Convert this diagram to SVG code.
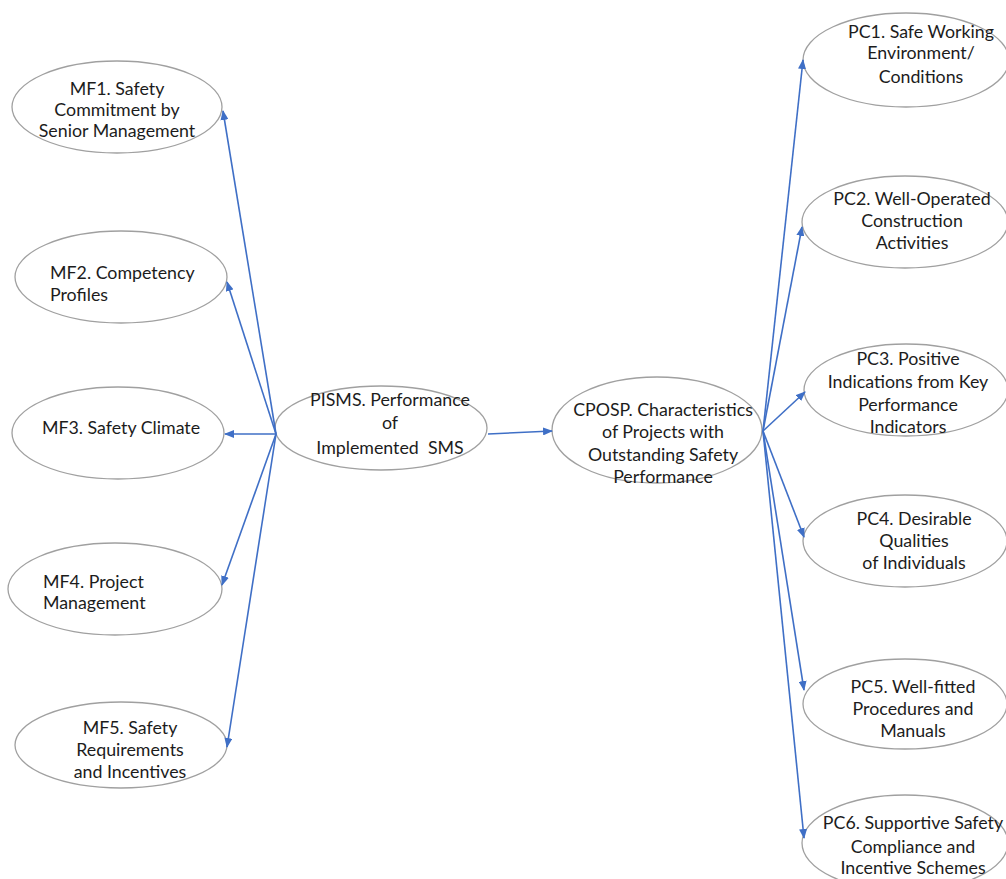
<svg xmlns="http://www.w3.org/2000/svg" width="1006" height="879" viewBox="0 0 1006 879">
<defs>
<style>
.n ellipse{fill:#fff;stroke:#a0a0a0;stroke-width:1.3}
.n text{font-family:"Lato","Open Sans",sans-serif;font-size:17.8px;fill:#1c1c1c;text-anchor:middle}
.n text.l{text-anchor:start}
#connectors line{stroke:#3f6fc6;stroke-width:1.6;marker-end:url(#ah)}
</style>
<marker id="ah" markerUnits="userSpaceOnUse" markerWidth="10" markerHeight="8" refX="9" refY="4" orient="auto">
<path d="M0,0 L10,4 L0,8 Z" fill="#3f6fc6"/>
</marker>
</defs>
<rect width="1006" height="879" fill="#fff"/>
<g id="MF1" class="n"><ellipse cx="117" cy="107" rx="105" ry="46"/>
<text x="117" y="95">MF1. Safety</text><text x="117" y="116">Commitment by</text><text x="117" y="137">Senior Management</text></g>
<g id="MF2" class="n"><ellipse cx="121" cy="277" rx="106" ry="46"/>
<text class="l" x="50" y="279">MF2. Competency</text><text class="l" x="50" y="301">Profiles</text></g>
<g id="MF3" class="n"><ellipse cx="118" cy="433" rx="106" ry="46"/>
<text x="121" y="434">MF3. Safety Climate</text></g>
<g id="MF4" class="n"><ellipse cx="115" cy="589" rx="107" ry="46"/>
<text class="l" x="43" y="588">MF4. Project</text><text class="l" x="43" y="609">Management</text></g>
<g id="MF5" class="n"><ellipse cx="121" cy="745" rx="106" ry="43"/>
<text x="130" y="734">MF5. Safety</text><text x="130" y="756">Requirements</text><text x="130" y="778">and Incentives</text></g>
<g id="PISMS" class="n"><ellipse cx="381" cy="428" rx="106" ry="42"/>
<text x="390" y="406">PISMS. Performance</text><text x="390" y="429">of</text><text x="390" y="454">Implemented&#160; SMS</text></g>
<g id="CPOSP" class="n"><ellipse cx="657" cy="430" rx="105" ry="53"/>
<text x="663" y="416">CPOSP. Characteristics</text><text x="663" y="438">of Projects with</text><text x="663" y="461">Outstanding Safety</text><text x="663" y="483">Performance</text></g>
<g id="PC1" class="n"><ellipse cx="906" cy="60" rx="103" ry="47"/>
<text x="921" y="38">PC1. Safe Working</text><text x="921" y="59">Environment/</text><text x="921" y="83">Conditions</text></g>
<g id="PC2" class="n"><ellipse cx="905" cy="222" rx="103" ry="46"/>
<text x="912" y="205">PC2. Well-Operated</text><text x="912" y="227">Construction</text><text x="912" y="249">Activities</text></g>
<g id="PC3" class="n"><ellipse cx="906" cy="390" rx="102" ry="46"/>
<text x="908" y="365">PC3. Positive</text><text x="908" y="388">Indications from Key</text><text x="908" y="411">Performance</text><text x="908" y="433">Indicators</text></g>
<g id="PC4" class="n"><ellipse cx="905" cy="541" rx="102" ry="46"/>
<text x="914" y="525">PC4. Desirable</text><text x="914" y="547">Qualities</text><text x="914" y="569">of Individuals</text></g>
<g id="PC5" class="n"><ellipse cx="905" cy="704" rx="102" ry="45"/>
<text x="913" y="693">PC5. Well-fitted</text><text x="913" y="715">Procedures and</text><text x="913" y="737">Manuals</text></g>
<g id="PC6" class="n"><ellipse cx="905" cy="843" rx="103" ry="48"/>
<text x="913" y="829">PC6. Supportive Safety</text><text x="913" y="853">Compliance and</text><text x="913" y="874">Incentive Schemes</text></g>
<g id="connectors">
<line x1="276" y1="434" x2="223" y2="111"/>
<line x1="276" y1="434" x2="227" y2="282"/>
<line x1="276" y1="434" x2="225" y2="434"/>
<line x1="276" y1="434" x2="222" y2="585"/>
<line x1="276" y1="434" x2="227" y2="747"/>
<line x1="488" y1="434" x2="552" y2="431"/>
<line x1="763" y1="431" x2="803" y2="60"/>
<line x1="763" y1="431" x2="802" y2="227"/>
<line x1="763" y1="431" x2="805" y2="392"/>
<line x1="763" y1="431" x2="804" y2="537"/>
<line x1="763" y1="431" x2="804" y2="690"/>
<line x1="763" y1="431" x2="804" y2="838"/>
</g>
</svg>
